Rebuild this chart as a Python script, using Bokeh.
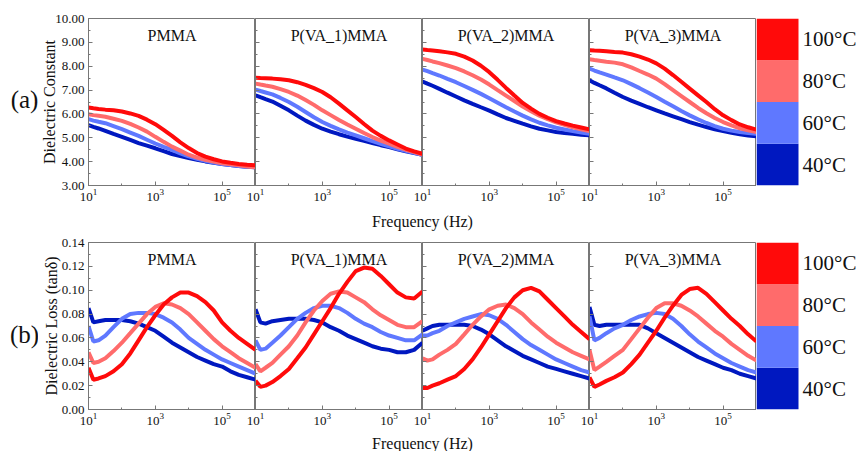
from bokeh.plotting import figure
from bokeh.layouts import row, column
from bokeh.models import Range1d, FixedTicker, PrintfTickFormatter, CustomJSTickFormatter
from bokeh.core.properties import value
from bokeh.embed import file_html
from bokeh.resources import INLINE

# ---------------- data ----------------
FREQ = [10, 14, 20, 32, 56, 100, 178, 316, 562, 1000, 1778, 3162, 5623, 10000,
        17783, 31623, 56234, 100000, 177828, 316228, 562341, 1000000]
SAMPLES = ["PMMA", "P(VA_1)MMA", "P(VA_2)MMA", "P(VA_3)MMA"]
TEMPS = ["40°C", "60°C", "80°C", "100°C"]
COLORS = ["#0018c0", "#5f78ff", "#ff6b6b", "#ff0a0a"]

X_MAJOR = [10, 1000, 100000]
X_MINOR = [100, 10000, 1000000]
EPS_TICKS = [3, 4, 5, 6, 7, 8, 9, 10]
EPS_MINOR = [3.5, 4.5, 5.5, 6.5, 7.5, 8.5, 9.5]
LOSS_TICKS = [0.0, 0.02, 0.04, 0.06, 0.08, 0.10, 0.12, 0.14]
LOSS_MINOR = [0.01, 0.03, 0.05, 0.07, 0.09, 0.11, 0.13]

# Dielectric constant
EPS_PMMA_40 = [5.53, 5.46, 5.39, 5.29, 5.16, 5.04, 4.91, 4.78, 4.67, 4.56, 4.44, 4.32, 4.23, 4.15, 4.08, 4.01, 3.95, 3.90, 3.86, 3.82, 3.79, 3.76]
EPS_PMMA_60 = [5.78, 5.72, 5.67, 5.61, 5.49, 5.36, 5.22, 5.08, 4.92, 4.76, 4.62, 4.49, 4.35, 4.22, 4.12, 4.04, 3.96, 3.90, 3.86, 3.82, 3.79, 3.76]
EPS_PMMA_80 = [5.99, 5.95, 5.92, 5.88, 5.80, 5.71, 5.58, 5.43, 5.26, 5.04, 4.83, 4.63, 4.46, 4.29, 4.17, 4.08, 4.00, 3.93, 3.89, 3.85, 3.80, 3.76]
EPS_PMMA_100 = [6.27, 6.24, 6.21, 6.18, 6.15, 6.10, 6.02, 5.92, 5.76, 5.57, 5.33, 5.08, 4.81, 4.57, 4.36, 4.21, 4.10, 4.01, 3.95, 3.90, 3.87, 3.85]

EPS_VA1_40 = [6.78, 6.70, 6.62, 6.52, 6.34, 6.15, 5.93, 5.72, 5.54, 5.38, 5.26, 5.15, 5.05, 4.96, 4.87, 4.78, 4.69, 4.61, 4.52, 4.43, 4.36, 4.29]
EPS_VA1_60 = [7.02, 6.96, 6.90, 6.82, 6.67, 6.50, 6.30, 6.08, 5.86, 5.66, 5.50, 5.35, 5.22, 5.10, 4.98, 4.86, 4.75, 4.64, 4.54, 4.45, 4.37, 4.29]
EPS_VA1_80 = [7.27, 7.23, 7.19, 7.14, 7.04, 6.92, 6.77, 6.58, 6.38, 6.15, 5.95, 5.75, 5.56, 5.38, 5.20, 5.03, 4.88, 4.75, 4.62, 4.50, 4.40, 4.30]
EPS_VA1_100 = [7.52, 7.51, 7.50, 7.48, 7.45, 7.41, 7.33, 7.22, 7.08, 6.92, 6.70, 6.43, 6.15, 5.87, 5.58, 5.30, 5.08, 4.89, 4.72, 4.55, 4.43, 4.33]

EPS_VA2_40 = [7.36, 7.27, 7.18, 7.05, 6.89, 6.73, 6.57, 6.42, 6.28, 6.14, 5.98, 5.83, 5.71, 5.59, 5.48, 5.38, 5.31, 5.24, 5.20, 5.17, 5.13, 5.10]
EPS_VA2_60 = [7.86, 7.79, 7.71, 7.61, 7.47, 7.33, 7.17, 7.01, 6.84, 6.66, 6.47, 6.28, 6.10, 5.93, 5.77, 5.63, 5.52, 5.42, 5.35, 5.28, 5.22, 5.17]
EPS_VA2_80 = [8.31, 8.26, 8.20, 8.13, 8.03, 7.92, 7.78, 7.62, 7.44, 7.23, 7.00, 6.77, 6.54, 6.31, 6.11, 5.93, 5.78, 5.65, 5.54, 5.44, 5.36, 5.28]
EPS_VA2_100 = [8.70, 8.68, 8.66, 8.63, 8.58, 8.52, 8.40, 8.24, 8.02, 7.75, 7.43, 7.09, 6.77, 6.46, 6.22, 6.00, 5.84, 5.70, 5.60, 5.51, 5.43, 5.35]

EPS_VA3_40 = [7.41, 7.30, 7.20, 7.07, 6.89, 6.71, 6.56, 6.42, 6.28, 6.15, 6.02, 5.90, 5.78, 5.66, 5.55, 5.45, 5.36, 5.28, 5.21, 5.15, 5.10, 5.06]
EPS_VA3_60 = [7.90, 7.82, 7.74, 7.65, 7.53, 7.41, 7.25, 7.08, 6.90, 6.71, 6.51, 6.32, 6.12, 5.94, 5.77, 5.62, 5.49, 5.38, 5.30, 5.24, 5.20, 5.17]
EPS_VA3_80 = [8.29, 8.26, 8.23, 8.19, 8.15, 8.08, 7.95, 7.80, 7.65, 7.48, 7.25, 7.00, 6.75, 6.50, 6.25, 6.03, 5.83, 5.66, 5.52, 5.40, 5.31, 5.24]
EPS_VA3_100 = [8.67, 8.66, 8.65, 8.63, 8.60, 8.57, 8.50, 8.40, 8.28, 8.12, 7.90, 7.63, 7.35, 7.06, 6.78, 6.50, 6.20, 5.94, 5.74, 5.56, 5.44, 5.34]

# Dielectric loss (tan delta)
TAN_PMMA_40 = [0.085, 0.073, 0.074, 0.075, 0.075, 0.075, 0.074, 0.072, 0.069, 0.066, 0.061, 0.056, 0.052, 0.048, 0.044, 0.041, 0.038, 0.036, 0.032, 0.029, 0.027, 0.025]
TAN_PMMA_60 = [0.070, 0.057, 0.058, 0.062, 0.069, 0.076, 0.080, 0.081, 0.081, 0.080, 0.077, 0.073, 0.067, 0.060, 0.055, 0.050, 0.046, 0.042, 0.039, 0.036, 0.033, 0.030]
TAN_PMMA_80 = [0.048, 0.039, 0.040, 0.043, 0.049, 0.056, 0.064, 0.072, 0.080, 0.086, 0.089, 0.088, 0.085, 0.080, 0.073, 0.066, 0.059, 0.053, 0.048, 0.043, 0.039, 0.035]
TAN_PMMA_100 = [0.035, 0.025, 0.026, 0.028, 0.032, 0.038, 0.047, 0.058, 0.069, 0.079, 0.088, 0.094, 0.098, 0.098, 0.095, 0.090, 0.083, 0.073, 0.066, 0.060, 0.055, 0.050]

TAN_VA1_40 = [0.084, 0.073, 0.072, 0.074, 0.075, 0.076, 0.076, 0.076, 0.075, 0.073, 0.069, 0.066, 0.062, 0.059, 0.056, 0.053, 0.051, 0.050, 0.048, 0.048, 0.050, 0.056]
TAN_VA1_60 = [0.058, 0.050, 0.051, 0.056, 0.062, 0.069, 0.076, 0.081, 0.085, 0.087, 0.087, 0.085, 0.081, 0.076, 0.072, 0.069, 0.065, 0.062, 0.060, 0.058, 0.058, 0.063]
TAN_VA1_80 = [0.038, 0.032, 0.035, 0.039, 0.046, 0.053, 0.062, 0.073, 0.083, 0.091, 0.097, 0.099, 0.098, 0.094, 0.090, 0.084, 0.079, 0.075, 0.071, 0.069, 0.069, 0.074]
TAN_VA1_100 = [0.024, 0.019, 0.020, 0.023, 0.028, 0.034, 0.043, 0.052, 0.063, 0.074, 0.085, 0.097, 0.107, 0.116, 0.119, 0.118, 0.112, 0.105, 0.098, 0.094, 0.093, 0.099]

TAN_VA2_40 = [0.066, 0.068, 0.070, 0.071, 0.071, 0.071, 0.071, 0.070, 0.067, 0.063, 0.058, 0.053, 0.049, 0.045, 0.042, 0.039, 0.036, 0.034, 0.032, 0.030, 0.028, 0.026]
TAN_VA2_60 = [0.062, 0.062, 0.064, 0.066, 0.070, 0.073, 0.076, 0.078, 0.080, 0.079, 0.076, 0.071, 0.065, 0.059, 0.054, 0.050, 0.046, 0.042, 0.039, 0.036, 0.033, 0.031]
TAN_VA2_80 = [0.043, 0.041, 0.042, 0.046, 0.050, 0.055, 0.063, 0.071, 0.078, 0.084, 0.087, 0.088, 0.085, 0.080, 0.073, 0.067, 0.061, 0.056, 0.052, 0.048, 0.045, 0.042]
TAN_VA2_100 = [0.018, 0.018, 0.020, 0.022, 0.025, 0.028, 0.034, 0.042, 0.052, 0.063, 0.074, 0.085, 0.094, 0.100, 0.102, 0.099, 0.092, 0.085, 0.078, 0.071, 0.065, 0.059]

TAN_VA3_40 = [0.086, 0.071, 0.070, 0.071, 0.071, 0.071, 0.071, 0.071, 0.068, 0.064, 0.060, 0.056, 0.052, 0.048, 0.044, 0.041, 0.038, 0.035, 0.033, 0.030, 0.028, 0.026]
TAN_VA3_60 = [0.078, 0.058, 0.060, 0.064, 0.068, 0.071, 0.075, 0.078, 0.080, 0.081, 0.080, 0.076, 0.070, 0.063, 0.057, 0.052, 0.047, 0.043, 0.039, 0.036, 0.033, 0.031]
TAN_VA3_80 = [0.050, 0.033, 0.036, 0.040, 0.045, 0.050, 0.059, 0.068, 0.077, 0.085, 0.089, 0.089, 0.087, 0.083, 0.078, 0.072, 0.066, 0.061, 0.055, 0.050, 0.045, 0.041]
TAN_VA3_100 = [0.027, 0.019, 0.021, 0.024, 0.027, 0.031, 0.038, 0.046, 0.056, 0.066, 0.077, 0.087, 0.096, 0.101, 0.102, 0.097, 0.090, 0.083, 0.076, 0.070, 0.063, 0.057]

EPS = [
    [EPS_PMMA_40, EPS_PMMA_60, EPS_PMMA_80, EPS_PMMA_100],
    [EPS_VA1_40, EPS_VA1_60, EPS_VA1_80, EPS_VA1_100],
    [EPS_VA2_40, EPS_VA2_60, EPS_VA2_80, EPS_VA2_100],
    [EPS_VA3_40, EPS_VA3_60, EPS_VA3_80, EPS_VA3_100],
]
TAN = [
    [TAN_PMMA_40, TAN_PMMA_60, TAN_PMMA_80, TAN_PMMA_100],
    [TAN_VA1_40, TAN_VA1_60, TAN_VA1_80, TAN_VA1_100],
    [TAN_VA2_40, TAN_VA2_60, TAN_VA2_80, TAN_VA2_100],
    [TAN_VA3_40, TAN_VA3_60, TAN_VA3_80, TAN_VA3_100],
]

# ---------------- styling / layout ----------------
FONT = "Liberation Serif"
GRAY = "#777777"
TXT = "#111111"
FW, FH = 167, 167
LBL_W = 38
P1_LEFT = 50
OVER = 12
CB_W = 101
BOTTOM = 22
TOTAL_W = LBL_W + P1_LEFT + 4 * FW + CB_W


def label_fig(txt, top, ypos):
    f = figure(frame_width=LBL_W, frame_height=FH, x_range=Range1d(0, LBL_W), y_range=Range1d(0, 1),
               min_border_left=0, min_border_right=0, min_border_top=top, min_border_bottom=BOTTOM,
               x_axis_location=None, y_axis_location=None, outline_line_color=None,
               toolbar_location=None, output_backend="svg")
    f.grid.visible = False
    f.text(x=[24], y=[ypos], text=[txt], text_align="center", text_baseline="middle",
           text_font=value(FONT), text_font_size="25px", text_color=TXT)
    return f


def panel(col, top, ylo, yhi, yticks, yminor, fmt, ylabel, lab_standoff, series):
    first = col == 0
    kw = {}
    if not first:
        kw["styles"] = {"margin-left": f"-{OVER}px"}
    p = figure(x_axis_type="log", x_range=Range1d(FREQ[0], FREQ[-1]), y_range=Range1d(ylo, yhi),
               frame_width=FW, frame_height=FH,
               min_border_left=P1_LEFT if first else OVER, min_border_right=0,
               min_border_top=top, min_border_bottom=BOTTOM,
               toolbar_location=None, output_backend="svg",
               background_fill_color="white",
               border_fill_color="white" if first else None,
               outline_line_color=GRAY, **kw)
    p.grid.visible = False

    xa = p.xaxis[0]
    xa.ticker = FixedTicker(ticks=X_MAJOR, minor_ticks=X_MINOR)
    xa.major_tick_in, xa.major_tick_out = 4, 0
    xa.minor_tick_in, xa.minor_tick_out = 2, 0
    xa.major_label_standoff = 3
    xa.major_label_text_font = FONT
    xa.major_label_text_font_size = "13px"
    xa.major_label_text_color = TXT
    xa.axis_line_color = GRAY
    xa.major_tick_line_color = GRAY
    xa.minor_tick_line_color = GRAY

    ya = p.yaxis[0]
    ya.ticker = FixedTicker(ticks=yticks, minor_ticks=yminor)
    ya.major_tick_in, ya.major_tick_out = 4, 0
    ya.minor_tick_in, ya.minor_tick_out = 2, 0
    ya.axis_line_color = GRAY
    ya.major_tick_line_color = GRAY
    ya.minor_tick_line_color = GRAY
    if first:
        ya.formatter = PrintfTickFormatter(format=fmt)
        ya.major_label_standoff = 4
        ya.major_label_text_font = FONT
        ya.major_label_text_font_size = "13px"
        ya.major_label_text_color = TXT
        ya.axis_label = ylabel
        ya.axis_label_text_font = FONT
        ya.axis_label_text_font_size = "16px"
        ya.axis_label_text_font_style = "normal"
        ya.axis_label_text_color = TXT
        ya.axis_label_standoff = lab_standoff
    else:
        ya.formatter = CustomJSTickFormatter(code="return ''")
        ya.major_label_standoff = 0

    for vals, c in zip(series, COLORS):
        p.line(FREQ, vals, line_color=c, line_width=4)

    title_y = yhi - (yhi - ylo) * 17.0 / FH
    title_x = (FREQ[0] * FREQ[-1]) ** 0.5
    p.text(x=[title_x], y=[title_y], text=[SAMPLES[col]], text_align="center",
           text_baseline="middle", text_font=value(FONT), text_font_size="16px", text_color=TXT)
    return p


def colorbar_fig(top):
    f = figure(frame_width=CB_W, frame_height=FH, x_range=Range1d(0, CB_W / 42.0),
               y_range=Range1d(0, len(TEMPS)),
               min_border_left=0, min_border_right=0, min_border_top=top, min_border_bottom=BOTTOM,
               x_axis_location=None, y_axis_location=None, outline_line_color=None,
               toolbar_location=None, output_backend="svg")
    f.grid.visible = False
    idx = list(range(len(TEMPS)))
    f.quad(left=0, right=1, bottom=idx, top=[i + 1 for i in idx], fill_color=COLORS, line_color=None)
    f.text(x=1.095, y=[i + 0.5 for i in idx], text=TEMPS, text_baseline="middle",
           text_font=value(FONT), text_font_size="21px", text_color=TXT)
    return f


def strip(height, y_from_top, txt):
    f = figure(frame_width=TOTAL_W, frame_height=height, x_range=Range1d(0, TOTAL_W),
               y_range=Range1d(0, height), min_border=0,
               x_axis_location=None, y_axis_location=None, outline_line_color=None,
               toolbar_location=None, output_backend="svg")
    f.grid.visible = False
    cx = LBL_W + P1_LEFT + 2 * FW
    f.text(x=[cx], y=[height - y_from_top], text=[txt], text_align="center", text_baseline="middle",
           text_font=value(FONT), text_font_size="16px", text_color=TXT)
    return f


TOP1, TOP2 = 18, 9
row1 = row(
    label_fig("(a)", TOP1, 0.515),
    *[panel(i, TOP1, 3, 10, EPS_TICKS, EPS_MINOR, "%.2f", "Dielectric Constant", -6, EPS[i]) for i in range(4)],
    colorbar_fig(TOP1),
)
row2 = row(
    label_fig("(b)", TOP2, 0.45),
    *[panel(i, TOP2, 0, 0.14, LOSS_TICKS, LOSS_MINOR, "%.2f", "Dielectric Loss (tanδ)", -1, TAN[i]) for i in range(4)],
    colorbar_fig(TOP2),
)
layout = column(row1, strip(26, 14, "Frequency (Hz)"), row2, strip(20, 12, "Frequency (Hz)"))

open("out.html", "w").write(file_html(layout, INLINE, "Dielectric"))
